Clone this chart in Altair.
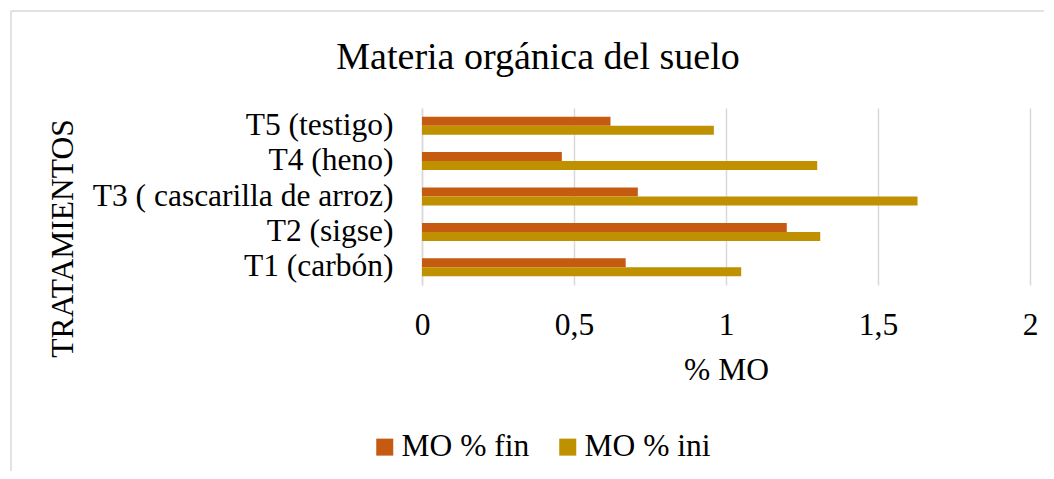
import altair as alt
import pandas as pd

categories = ["T1 (carbón)", "T2 (sigse)", "T3 ( cascarilla de arroz)", "T4 (heno)", "T5 (testigo)"]
mo_fin = [0.67, 1.20, 0.71, 0.46, 0.62]
mo_ini = [1.05, 1.31, 1.63, 1.30, 0.96]
series = ["MO % fin", "MO % ini"]
x_ticks = [0, 0.5, 1, 1.5, 2]
colors = ["#C55A11", "#BF9000"]

rows = []
for c, f, i in zip(categories, mo_fin, mo_ini):
    rows.append({"Tratamiento": c, "Serie": series[0], "Valor": f})
    rows.append({"Tratamiento": c, "Serie": series[1], "Valor": i})
df = pd.DataFrame(rows)

FONT = "Liberation Serif"
GRID = "#d9d9d9"
FS = 31.5

bars = alt.Chart(df).mark_bar(size=9).encode(
    x=alt.X("Valor:Q",
            scale=alt.Scale(domain=[0, 2], nice=False, zero=True),
            axis=alt.Axis(values=x_ticks, title="% MO", grid=True, gridColor=GRID, gridWidth=1.5,
                          domain=False, ticks=False, tickSize=0, labelPadding=24, labelFlush=False,
                          labelExpr="replace(toString(datum.value), '.', ',')",
                          titleY=85, titleBaseline="middle")),
    y=alt.Y("Tratamiento:N", sort=list(reversed(categories)),
            scale=alt.Scale(paddingInner=0.49, paddingOuter=0.245),
            axis=alt.Axis(title="TRATAMIENTOS", domain=True, domainColor=GRID, domainWidth=1.5,
                          ticks=False, tickSize=0, labelPadding=29, grid=False, labelLimit=0,
                          titleAngle=270, titleX=-359, titleY=130,
                          titleAlign="center", titleBaseline="middle")),
    yOffset=alt.YOffset("Serie:N", sort=series,
                        scale=alt.Scale(paddingInner=0, paddingOuter=0)),
    color=alt.Color("Serie:N", scale=alt.Scale(domain=series, range=colors),
                    legend=alt.Legend(title=None, orient="none", direction="horizontal",
                                      legendX=-53, legendY=323, padding=0, symbolType="square",
                                      symbolSize=289, symbolStrokeWidth=0, labelOffset=1,
                                      columnPadding=22, labelFontSize=FS, labelFont=FONT,
                                      labelColor="#000000", labelBaseline="middle")),
)

border_left = alt.Chart(alt.Data(values=[{"k": 1}])).mark_rule(color=GRID, strokeWidth=1.5).encode(
    x=alt.value(-411), y=alt.value(-97), y2=alt.value(371))
border_top = alt.Chart(alt.Data(values=[{"k": 1}])).mark_rule(color=GRID, strokeWidth=1.5).encode(
    x=alt.value(-411), x2=alt.value(700), y=alt.value(-97))

chart = alt.layer(border_left, border_top, bars).properties(
    width=608, height=177,
    title=alt.TitleParams("Materia orgánica del suelo", anchor="middle", dx=-188, dy=71,
                          font=FONT, fontSize=38, fontWeight="normal", color="#000000"),
    autosize=alt.AutoSizeParams(type="none"),
    padding={"left": 414, "top": 100, "right": 14, "bottom": 186},
).configure_view(stroke=None).configure_axis(
    labelFont=FONT, labelFontSize=FS, labelColor="#000000",
    titleFont=FONT, titleFontSize=FS, titleColor="#000000", titleFontWeight="normal",
)

chart.save("out.html", embed_options={"renderer": "svg", "actions": False})
